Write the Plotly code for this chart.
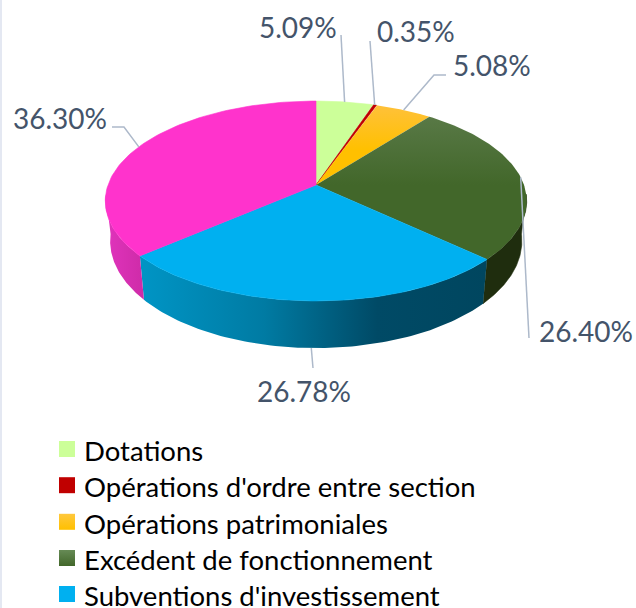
import math
import plotly.graph_objects as go

legend_names = ["Dotations", "Opérations d'ordre entre section", "Opérations patrimoniales",
                "Excédent de fonctionnement", "Subventions d'investissement"]
values = [5.09, 0.35, 5.08, 26.40, 26.78, 36.30]
value_labels = ["5.09%", "0.35%", "5.08%", "26.40%", "26.78%", "36.30%"]
top_colors = ["#CCFF99", "#C00000", "#FFC000", "#42672A", "#00B0F0", "#FF33CC"]

# projection of the tilted disc (pixels, y down)
CX, CY, A, B, K = 316, 185, 97.4, 208, 0.16
SX, SY, CY2 = 0.977, 1.07, 224
TXT = "#44546A"
LEAD = "#ADB9CA"
FONT = "Lato"


def top_pt(pct):
    t = pct * 2 * math.pi / 100
    u, v = math.sin(t), -math.cos(t)
    w = 1 - K * v
    return CX + B * u / w, CY + A * v / w


def bot_pt(pct):
    x, y = top_pt(pct)
    return CX + SX * (x - CX), CY2 + SY * (y - CY)


def arc(fn, a, b, n=90):
    pts = [fn(a + (b - a) * i / n) for i in range(n + 1)]
    return [p[0] for p in pts], [p[1] for p in pts]


edges = [0.0]
for val in values:
    edges.append(edges[-1] + val)

fig = go.Figure()


def poly(xs, ys, color=None, grad=None):
    kw = dict(x=xs, y=ys, mode="lines", fill="toself", hoverinfo="skip", showlegend=False)
    if grad:
        kw["fillgradient"] = grad
        kw["line"] = dict(width=0)
        kw["fillcolor"] = color
    else:
        kw["fillcolor"] = color
        kw["line"] = dict(color=color, width=0.6)
    fig.add_trace(go.Scatter(**kw))


# side walls
SIDE_FROM, SIDE_TO = 26.5, 73.5
side_styles = {
    3: ("#1F2D0E", None),
    4: ("#00607F", dict(type="horizontal", start=144, stop=487,
                        colorscale=[[0, "#0094C4"], [0.35, "#007BA3"], [0.68, "#004A66"], [1, "#00465F"]])),
    5: ("#D42DAE", dict(type="horizontal", start=106, stop=144,
                        colorscale=[[0, "#E034BC"], [1, "#CE2BA8"]])),
}
for i, (col, grad) in side_styles.items():
    a = max(edges[i], SIDE_FROM)
    b = min(edges[i + 1], SIDE_TO)
    tx, ty = arc(top_pt, a, b)
    bx, by = arc(bot_pt, a, b)
    poly(tx + bx[::-1] + [tx[0]], ty + by[::-1] + [ty[0]], col, grad)

# top faces
top_grads = {
    2: dict(type="vertical", start=105, stop=150, colorscale=[[0, "#FFC13A"], [1, "#FFC000"]]),
    3: dict(type="vertical", start=112, stop=185, colorscale=[[0, "#5A7A48"], [1, "#42672A"]]),
}
for i, col in enumerate(top_colors):
    ax, ay = arc(top_pt, edges[i], edges[i + 1])
    poly([CX] + ax + [CX], [CY] + ay + [CY], col, top_grads.get(i))

# leader lines: start on the mid-angle of each slice, then to the label
mids = [(edges[i] + edges[i + 1]) / 2 for i in range(len(values))]
leader_tails = [
    [(341, 35)],
    [(370, 41)],
    [(434, 75), (446, 75)],
    [(529, 338)],
    [(313, 368)],
    [(124, 127), (112, 127)],
]
for i, tail in enumerate(leader_tails):
    start = bot_pt(mids[i]) if i == 4 else top_pt(mids[i])
    pts = [start] + tail
    fig.add_trace(go.Scatter(x=[p[0] for p in pts], y=[p[1] for p in pts], mode="lines",
                             line=dict(color=LEAD, width=1.5), hoverinfo="skip", showlegend=False))

# data labels
label_pos = [(297.5, 27), (415.5, 31), (492, 65), (585.5, 331), (304, 391), (60, 118)]
annotations = []
for (lx, ly), text in zip(label_pos, value_labels):
    annotations.append(dict(x=lx, y=ly, text=text, showarrow=False, xanchor="center", yanchor="middle",
                            font=dict(family=FONT, size=28, color=TXT)))

# legend
legend_y = [449, 485.2, 521.8, 558, 594]
legend_fill = [top_colors[0], top_colors[1], "#FFC000", "#42672A", top_colors[4]]
legend_grad = [None, None, ("vertical", "#FFC83D"), ("vertical", "#668A55"), None]
for i, name in enumerate(legend_names):
    marker = dict(symbol="square", size=16, color=legend_fill[i], line=dict(width=0))
    if legend_grad[i]:
        marker = dict(symbol="square", size=16, color=legend_grad[i][1], line=dict(width=0),
                      gradient=dict(type=legend_grad[i][0], color=legend_fill[i]))
    fig.add_trace(go.Scatter(x=[67], y=[legend_y[i]], mode="markers", marker=marker,
                             name=name, hoverinfo="name", showlegend=False))
    annotations.append(dict(x=81.5, y=legend_y[i] + 1.5, text=name, showarrow=False, xanchor="left",
                            yanchor="middle", font=dict(family=FONT, size=27.5, color="#000000")))

fig.update_layout(
    width=636, height=608, margin=dict(l=0, r=0, t=0, b=0),
    paper_bgcolor="white", plot_bgcolor="white", showlegend=False,
    xaxis=dict(range=[0, 636], visible=False, fixedrange=True),
    yaxis=dict(range=[608, 0], visible=False, fixedrange=True),
    annotations=annotations,
    shapes=[dict(type="rect", x0=0, x1=2, y0=0, y1=608, fillcolor="#E4E8F2", line=dict(width=0), layer="below")],
)
post = ("document.body.style.margin='0';document.documentElement.style.overflow='hidden';"
        "var s=document.createElement('style');"
        "s.textContent='text{font-variant-ligatures:none;}';document.head.appendChild(s);")
fig.write_html("out.html", config=dict(displayModeBar=False), post_script=post)
